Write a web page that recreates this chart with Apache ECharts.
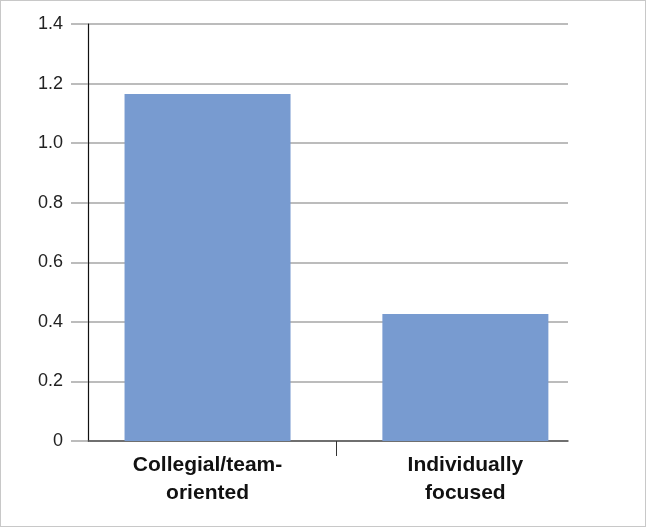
<!DOCTYPE html>
<html>
<head>
<meta charset="utf-8">
<script src="https://cdn.jsdelivr.net/npm/echarts@6/dist/echarts.min.js"></script>
<style>
html,body{margin:0;padding:0;background:#fff;}
#wrap{position:relative;width:646px;height:527px;}
#chart{position:absolute;left:0;top:0;width:646px;height:527px;}
#frame{position:absolute;left:0;top:0;width:646px;height:527px;box-sizing:border-box;border:1px solid #c8c8c8;pointer-events:none;}
</style>
</head>
<body>
<div id="wrap"><div id="chart"></div><div id="frame"></div></div>
<script>
const categories = ['Collegial/team-\noriented', 'Individually\nfocused'];
const values = [1.165, 0.426];
const yTicks = [0, 0.2, 0.4, 0.6, 0.8, 1.0, 1.2, 1.4];

const chart = echarts.init(document.getElementById('chart'), null, {renderer: 'canvas'});
const option = {
  animation: false,
  backgroundColor: '#ffffff',
  grid: {left: 88, right: 78, top: 24, bottom: 86, containLabel: false},
  xAxis: {
    type: 'value',
    min: -0.4636,
    max: 1.398,
    splitLine: {show: false},
    axisLine: {show: true, onZero: false, lineStyle: {color: '#555555', width: 1.5}},
    axisTick: {show: true, customValues: [0.5], length: 15, lineStyle: {color: '#333333', width: 1}},
    axisLabel: {
      show: true,
      customValues: categories.map((c, i) => i),
      formatter: v => categories[Math.round(v)],
      fontFamily: "'Liberation Sans Narrow', 'Liberation Sans', Arial, sans-serif",
      fontWeight: 'bold',
      fontSize: 21,
      lineHeight: 28,
      color: '#111111',
      margin: 10
    }
  },
  yAxis: {
    type: 'value',
    min: yTicks[0],
    max: yTicks[yTicks.length - 1],
    interval: 0.2,
    axisLine: {show: true, onZero: false, lineStyle: {color: '#111111', width: 1.2}},
    axisTick: {show: true, inside: false, length: 17, lineStyle: {color: '#a6a6a6', width: 1.5}},
    splitLine: {show: true, lineStyle: {color: '#a6a6a6', width: 1.5}},
    axisLabel: {
      formatter: v => {
        const r = Math.round(v * 10) / 10;
        return r === 0 ? '0' : r.toFixed(1);
      },
      fontFamily: "'Liberation Sans', Arial, sans-serif",
      fontSize: 18,
      color: '#222222',
      margin: 25
    }
  },
  series: [{
    type: 'bar',
    data: values.map((v, i) => [i, v]),
    barWidth: 166,
    itemStyle: {color: '#789bd0'}
  }]
};
chart.setOption(option);
</script>
</body>
</html>
